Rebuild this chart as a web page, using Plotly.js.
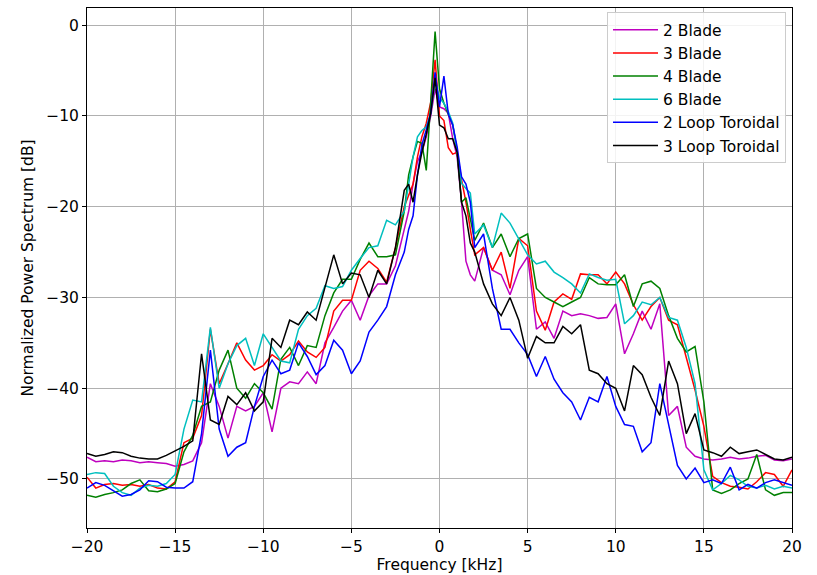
<!DOCTYPE html>
<html><head><meta charset="utf-8">
<script src="https://cdn.plot.ly/plotly-3.0.1.min.js"></script>
<style>body{margin:0;background:#fff}#chart{width:817px;height:575px}</style>
</head><body><div id="chart"></div>
<script>
// Frequency grid [kHz]
const freq = [
 -20,-19.5,-19,-18.5,-18,-17.5,-17,-16.5,-16,-15.5,
 -15,-14.5,-14,-13.5,-13,-12.5,-12,-11.5,-11,-10.5,
 -10,-9.5,-9,-8.5,-8,-7.5,-7,-6.5,-6,-5.5,
 -5,-4.5,-4,-3.5,-3,-2.5,-2,-1.75,-1.5,-1.25,
 -1,-0.75,-0.5,-0.25,0,0.25,0.5,0.75,1,1.25,
 1.5,1.75,2,2.5,3,3.5,4,4.5,5,5.5,
 6,6.5,7,7.5,8,8.5,9,9.5,10,10.5,
 11,11.5,12,12.5,13,13.5,14,14.5,15,15.5,
 16,16.5,17,17.5,18,18.5,19,19.5,20];

const blade2 = [
 -47.6,-48.1,-48.0,-48.1,-47.9,-48.0,-48.2,-48.1,-48.2,-48.3,
 -48.6,-48.4,-48.0,-46.0,-39.5,-42.0,-45.5,-42.0,-42.5,-42.0,
 -40.5,-44.8,-40.0,-39.3,-39.5,-38.2,-39.5,-35.0,-33.3,-31.5,
 -30.3,-32.5,-29.8,-28.5,-28.5,-26.5,-22.5,-20.5,-17.5,-15.0,
 -14.0,-12.3,-10.0,-7.0,-9.0,-9.2,-9.7,-12.5,-14.5,-19.5,
 -26.0,-27.5,-28.2,-24.5,-27.0,-27.5,-29.7,-27.0,-25.5,-33.5,
 -32.7,-34.5,-31.5,-32.0,-31.8,-32.0,-32.3,-32.2,-30.7,-36.2,
 -34.0,-31.5,-33.5,-30.7,-43.0,-42.0,-46.5,-47.5,-47.8,-47.9,
 -47.8,-47.6,-47.8,-47.7,-47.5,-47.4,-47.9,-48.0,-47.8];

const blade3 = [
 -49.8,-51.0,-50.6,-50.5,-50.7,-50.6,-50.8,-50.6,-51.0,-51.1,
 -50.3,-46.0,-45.5,-43.0,-33.5,-39.5,-37.3,-35.0,-36.9,-38.0,
 -37.5,-36.3,-37.0,-36.3,-34.8,-36.0,-36.6,-35.5,-31.5,-30.3,
 -30.3,-27.0,-26.0,-26.8,-28.3,-24.5,-20.0,-18.8,-17.5,-14.5,
 -12.3,-10.8,-8.5,-3.8,-10.0,-10.5,-13.5,-14.2,-14.0,-17.0,
 -19.5,-22.5,-25.3,-24.5,-27.0,-25.0,-29.0,-23.5,-24.3,-31.5,
 -33.6,-30.5,-29.6,-30.2,-27.4,-27.5,-27.5,-28.5,-27.2,-28.5,
 -30.8,-32.5,-31.0,-30.0,-32.5,-33.0,-36.5,-40.2,-44.2,-49.7,
 -50.4,-50.8,-50.9,-51.1,-50.3,-49.3,-49.5,-50.8,-49.0];

const blade4 = [
 -51.8,-52.0,-51.7,-51.5,-51.2,-50.5,-50.1,-51.3,-51.4,-51.1,
 -50.5,-47.0,-45.2,-42.0,-41.5,-38.0,-35.8,-40.0,-41.1,-39.5,
 -40.5,-42.3,-36.8,-35.5,-37.5,-35.3,-35.5,-32.0,-29.5,-28.0,
 -28.0,-25.8,-24.0,-25.5,-25.5,-25.3,-20.5,-16.5,-14.5,-12.8,
 -13.0,-16.0,-8.5,-0.7,-7.0,-8.6,-9.8,-11.0,-13.8,-19.5,
 -19.0,-21.5,-23.7,-21.8,-24.5,-23.0,-25.5,-23.5,-23.0,-29.0,
 -30.0,-30.5,-31.0,-30.5,-30.0,-27.8,-28.5,-28.6,-28.6,-27.5,
 -31.0,-28.5,-28.2,-29.0,-32.0,-34.5,-36.0,-35.4,-41.5,-51.2,
 -51.6,-51.2,-50.5,-50.0,-47.3,-51.2,-51.8,-51.5,-51.5];

const blade6 = [
 -49.5,-49.3,-49.4,-50.8,-51.5,-51.8,-51.0,-50.7,-50.8,-50.5,
 -49.5,-44.5,-41.3,-41.5,-33.3,-40.0,-37.3,-35.3,-34.5,-37.5,
 -34.0,-35.5,-37.0,-37.2,-33.5,-32.0,-31.2,-28.7,-29.0,-28.8,
 -27.0,-25.7,-24.5,-24.3,-21.5,-22.0,-20.5,-17.5,-14.5,-12.3,
 -11.6,-11.2,-9.7,-6.1,-8.0,-8.6,-9.5,-10.8,-14.1,-17.4,
 -18.0,-18.5,-23.0,-22.0,-24.5,-20.7,-21.8,-23.5,-25.3,-26.3,
 -26.0,-27.2,-27.8,-28.5,-29.5,-27.4,-27.8,-28.1,-28.0,-32.9,
 -32.0,-30.5,-30.8,-30.0,-32.2,-32.5,-35.5,-39.5,-49.0,-51.2,
 -50.5,-49.6,-50.1,-50.8,-51.0,-50.7,-51.1,-50.8,-51.0];

const loop2 = [
 -51.0,-50.4,-50.7,-51.3,-51.9,-51.7,-51.2,-50.2,-50.3,-50.9,
 -51.0,-51.0,-50.3,-45.0,-35.8,-44.5,-47.5,-46.5,-46.0,-42.0,
 -38.7,-36.9,-38.4,-38.0,-35.0,-36.5,-38.5,-37.5,-34.7,-35.8,
 -38.4,-37.0,-33.8,-32.5,-31.0,-27.5,-25.0,-22.5,-21.0,-16.5,
 -13.2,-11.5,-9.7,-5.2,-9.0,-5.6,-9.8,-11.0,-13.4,-16.7,
 -17.5,-19.5,-24.5,-23.0,-29.0,-33.5,-33.5,-35.0,-36.3,-38.7,
 -36.5,-39.0,-40.5,-41.5,-43.5,-41.0,-41.5,-38.7,-42.0,-44.0,
 -44.2,-47.0,-46.0,-39.5,-44.0,-48.5,-50.0,-48.8,-50.4,-50.1,
 -50.5,-48.7,-51.2,-50.6,-51.0,-50.4,-50.1,-50.4,-50.7];

const loop3 = [
 -47.2,-47.5,-47.3,-47.0,-47.1,-47.5,-47.7,-47.8,-47.8,-47.4,
 -46.9,-46.4,-45.8,-36.2,-43.5,-44.0,-40.9,-41.8,-40.5,-42.5,
 -41.5,-34.5,-35.5,-32.5,-33.0,-31.6,-32.5,-29.0,-25.3,-28.5,
 -27.3,-27.5,-30.0,-27.0,-28.5,-24.5,-18.2,-17.5,-19.5,-16.5,
 -14.0,-12.0,-9.7,-5.8,-11.0,-11.3,-12.5,-12.5,-14.0,-19.5,
 -21.0,-24.0,-25.0,-28.5,-30.7,-32.0,-30.0,-32.5,-36.7,-34.3,
 -35.0,-35.0,-33.2,-34.0,-33.0,-38.0,-38.4,-39.5,-40.0,-42.5,
 -37.5,-38.5,-41.0,-43.0,-37.0,-39.5,-45.0,-42.8,-46.8,-47.1,
 -47.5,-46.5,-47.2,-47.0,-46.8,-47.3,-47.8,-47.9,-47.6];

const seriesNames = ['2 Blade','3 Blade','4 Blade','6 Blade','2 Loop Toroidal','3 Loop Toroidal'];
const seriesColors = ['#bf00bf','#ff0000','#008000','#00bfbf','#0000ff','#000000'];
const seriesData = [blade2, blade3, blade4, blade6, loop2, loop3];

const traces = seriesData.map((y, i) => ({
  x: freq, y: y, type: 'scatter', mode: 'lines',
  name: seriesNames[i], legendgroup: 'g' + i,
  line: {color: seriesColors[i], width: 1.5}
}));

const FS = 15.5;
const axisCommon = {
  showline: true, mirror: true, linecolor: '#000', linewidth: 1,
  ticks: 'outside', ticklen: 4, tickcolor: '#000', tickwidth: 1,
  showgrid: true, gridcolor: '#b0b0b0', gridwidth: 1, zeroline: false,
  tickfont: {family: 'DejaVu Sans', size: FS, color: '#000'}
};

const layout = {
  width: 817, height: 575,
  margin: {l: 87, r: 25, t: 8, b: 47},
  paper_bgcolor: '#fff', plot_bgcolor: '#fff',
  font: {family: 'DejaVu Sans', size: FS, color: '#000'},
  xaxis: Object.assign({}, axisCommon, {
    range: [-20, 20], tick0: 0, dtick: 5,
    title: {text: 'Frequency [kHz]', font: {size: FS}, standoff: 4}
  }),
  yaxis: Object.assign({}, axisCommon, {
    range: [-55.4, 1.9], tick0: 0, dtick: 10,
    title: {text: 'Normalized Power Spectrum [dB]', font: {size: FS}, standoff: 8}
  }),
  legend: {
    x: 0.9915, y: 0.992, xanchor: 'right', yanchor: 'top',
    bgcolor: 'rgba(255,255,255,0.85)', bordercolor: '#cccccc', borderwidth: 1,
    font: {family: 'DejaVu Sans', size: FS, color: '#000'}, tracegroupgap: 0,
    itemwidth: 45
  },
  showlegend: true
};

Plotly.newPlot('chart', traces, layout, {staticPlot: true, displayModeBar: false});
</script>
</body></html>
